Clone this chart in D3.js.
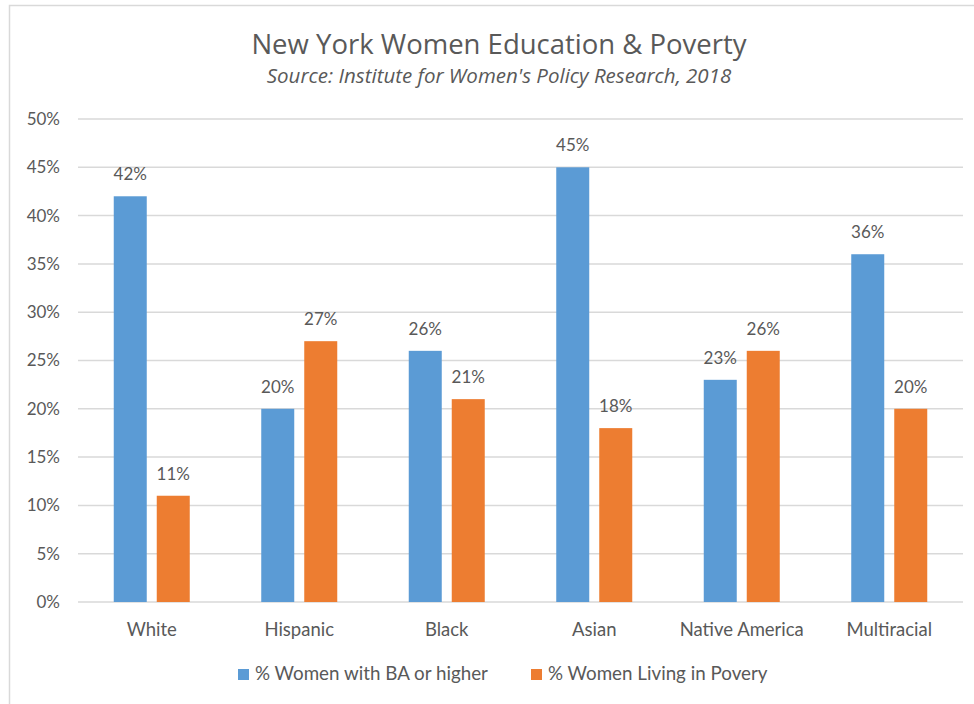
<!DOCTYPE html>
<html>
<head>
  <meta charset="utf-8">
  <title>New York Women Education & Poverty</title>
  <style>
    body { margin: 0; background: #fff; }
    text { font-family: Lato, 'Open Sans', sans-serif; fill: #595959; }
  </style>
</head>
<body>
  <div id="chart"></div>
  <script src="https://cdn.jsdelivr.net/npm/d3@7"></script>
  <script>

    // values
    let categories = ['White', 'Hispanic', 'Black', 'Asian', 'Native America', 'Multiracial'];
    let seriesNames = ['% Women with BA or higher', '% Women Living in Povery'];
    let baValues = [42, 20, 26, 45, 23, 36];
    let povertyValues = [11, 27, 21, 18, 26, 20];
    let yTicks = [0, 5, 10, 15, 20, 25, 30, 35, 40, 45, 50];
    let colors = ['#5b9bd5', '#ed7d31'];

    function translate(x, y) {
      return 'translate(' + x + ', ' + y + ')';
    }

    let svgWidth = 974;
    let svgHeight = 704;

    let svg = d3.select('#chart')
      .append('svg')
        .attr('width', svgWidth)
        .attr('height', svgHeight);

    // chart area border (only top and left visible)
    svg.append('rect')
      .attr('x', 9.5)
      .attr('y', 5.5)
      .attr('width', 1000)
      .attr('height', 800)
      .style('fill', 'none')
      .style('stroke', '#d9d9d9')
      .style('stroke-width', 1.5);

    svg.append('text')
      .attr('x', 499)
      .attr('y', 54)
      .style('text-anchor', 'middle')
      .style('font-family', "'Open Sans', sans-serif")
      .style('font-size', '27.5px')
      .text('New York Women Education & Poverty');

    svg.append('text')
      .attr('x', 499)
      .attr('y', 83)
      .style('text-anchor', 'middle')
      .style('font-family', "'Open Sans', sans-serif")
      .style('font-size', '20.5px')
      .style('font-style', 'italic')
      .text("Source: Institute for Women's Policy Research, 2018");

    let x0 = d3.scaleBand()
      .domain(categories)
      .range([78, 963]);

    let pad = (x0.bandwidth() - 76) / 2;
    let x1 = d3.scaleBand()
      .domain([0, 1])
      .range([pad, x0.bandwidth() - pad])
      .paddingInner(10 / 43);

    let y = d3.scaleLinear()
      .domain([0, 50])
      .range([602, 119]);

    // gridlines
    svg.append('g')
      .selectAll('line')
      .data(yTicks)
      .enter()
      .append('line')
        .attr('x1', 78)
        .attr('x2', 963)
        .attr('y1', d => y(d))
        .attr('y2', d => y(d))
        .style('stroke', '#d9d9d9')
        .style('stroke-width', 1.5);

    // y tick labels
    svg.append('g')
      .selectAll('text')
      .data(yTicks)
      .enter()
      .append('text')
        .attr('x', 60)
        .attr('y', d => y(d))
        .attr('dy', '0.35em')
        .style('text-anchor', 'end')
        .style('font-size', '17px')
        .text(d => d + '%');

    let rows = categories.map((c, i) => ({
      cat: c,
      values: [baValues[i], povertyValues[i]]
    }));

    let groups = svg.selectAll('.group')
      .data(rows)
      .enter()
      .append('g')
        .attr('class', 'group')
        .attr('transform', d => translate(x0(d.cat), 0));

    groups.selectAll('rect')
      .data(d => d.values.map((v, s) => ({ v: v, s: s })))
      .enter()
      .append('rect')
        .attr('x', d => x1(d.s))
        .attr('width', x1.bandwidth())
        .attr('y', d => y(d.v))
        .attr('height', d => y(0) - y(d.v))
        .style('fill', d => colors[d.s]);

    groups.selectAll('.label')
      .data(d => d.values.map((v, s) => ({ v: v, s: s })))
      .enter()
      .append('text')
        .attr('class', 'label')
        .attr('x', d => x1(d.s) + x1.bandwidth() / 2)
        .attr('y', d => y(d.v) - 16)
        .style('text-anchor', 'middle')
        .style('font-size', '17px')
        .text(d => d.v + '%');

    // category labels
    svg.append('g')
      .selectAll('text')
      .data(categories)
      .enter()
      .append('text')
        .attr('x', d => x0(d) + x0.bandwidth() / 2)
        .attr('y', 636)
        .style('text-anchor', 'middle')
        .style('font-size', '18.5px')
        .text(d => d);

    // legend
    let legendX = [238, 531];
    let legend = svg.selectAll('.legend')
      .data(seriesNames)
      .enter()
      .append('g')
        .attr('class', 'legend')
        .attr('transform', (d, i) => translate(legendX[i], 669));

    legend.append('rect')
      .attr('width', 11)
      .attr('height', 11)
      .style('fill', (d, i) => colors[i]);

    legend.append('text')
      .attr('x', 17)
      .attr('y', 11)
      .style('font-size', '18.8px')
      .text(d => d);

  </script>
</body>
</html>
